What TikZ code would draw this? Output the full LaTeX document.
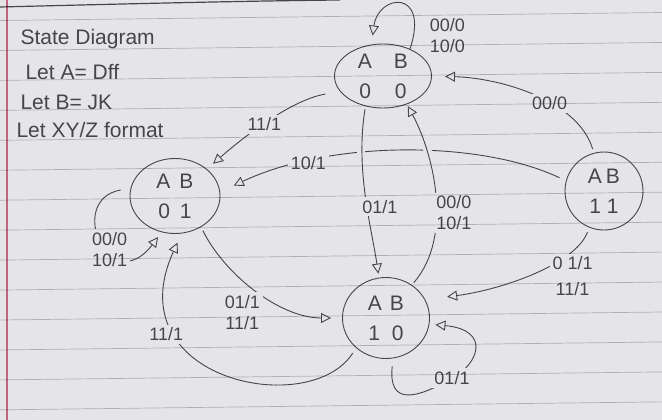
\documentclass[tikz,border=0pt]{standalone}
\usepackage{fontspec}
\setmainfont{Liberation Sans}
\usetikzlibrary{arrows.meta,positioning,shapes.geometric}
\definecolor{paper}{RGB}{229,229,231}
\definecolor{pencil}{RGB}{70,70,72}
\definecolor{ruling}{RGB}{192,196,204}
\definecolor{margin}{RGB}{214,112,142}

\begin{document}
\begin{tikzpicture}[x=1pt,y=-1pt,
  every node/.style={text=pencil},
  st/.style={draw=pencil,line width=0.9pt,ellipse,inner sep=0pt,align=center,
    font=\fontsize{21}{30}\selectfont},
  lbl/.style={fill=paper,inner sep=3pt,align=center,font=\fontsize{18}{21}\selectfont},
  note/.style={anchor=base west,font=\fontsize{21}{25}\selectfont},
  arr/.style={draw=pencil,line width=0.9pt,-{Triangle[open,length=10pt,width=10pt]}},
  hop/.style={preaction={draw=paper,line width=8pt,-,shorten <=14pt,shorten >=14pt}}
]
\useasboundingbox (0,0) rectangle (662,420);
\fill[paper] (0,0) rectangle (662,420);
\draw[pencil,line width=1.2pt] (0,7) .. controls (120,4) and (240,1) .. (340,0);

\node[note] (title) at (17,45) {State Diagram};
\node[note] (leta) at (22,80) {Let A= Dff};
\node[note] (letb) at (17,110) {Let B= JK};
\node[note] (letxy) at (13,138) {Let XY/Z format};

\node[st,minimum width=97pt,minimum height=64pt] (s00) at (383,76) {A\hspace{22pt}B\\0\hspace{24pt}0};
\node[st,minimum width=90pt,minimum height=75pt] (s01) at (175,196) {A\hspace{9pt}B\\0\hspace{10pt}1};
\node[st,minimum width=78pt,minimum height=78pt] (s11) at (604,191) {A\hspace{4pt}B\\1\hspace{6pt}1};
\node[st,minimum width=87pt,minimum height=81pt] (s10) at (386,318) {A\hspace{8pt}B\\1\hspace{12pt}0};

\draw[arr,shorten >=9pt] (s00.45) .. controls (430,-12) and (378,-6) .. (s00.110)
  node[lbl,pos=.12,anchor=west,xshift=12pt,yshift=-6pt] (l1) {00/0\\10/0};
\draw[arr,shorten <=4pt,shorten >=13pt] (s11.105) .. controls (578,100) and (500,78) .. (s00.east)
  node[lbl,pos=.4] (l2) {00/0};
\draw[arr,shorten <=15pt,shorten >=8pt] (s00.200) .. controls (290,100) and (240,140) .. (s01.40)
  node[lbl,pos=.52] (l3) {11/1};
\draw[arr,shorten <=7pt,shorten >=15pt] (s11.165) .. controls (480,140) and (330,140) .. (s01.5)
  node[lbl,pos=.75] (l4) {10/1};
\draw[arr,hop,shorten <=3pt,shorten >=4pt] (s00.240) .. controls (355,170) and (372,230) .. (s10.100)
  node[lbl,pos=.55,xshift=13pt] (l5) {01/1};
\draw[arr,hop,shorten <=3pt,shorten >=2pt] (s10.52) .. controls (455,235) and (432,150) .. (s00.310)
  node[lbl,pos=.4,xshift=18pt] (l6) {00/0\\10/1};
\draw[arr,shorten <=5pt,shorten >=22pt] (s11.248) .. controls (575,265) and (500,290) .. (s10.25)
  node[lbl,pos=.35,xshift=18pt,yshift=-14pt] (l7) {0 1/1\\[5pt]11/1};
\draw[arr,shorten <=8pt,shorten >=6pt] (s10.280) .. controls (388,405) and (415,400) .. (452,378)
  node[lbl] (l8) {01/1} .. controls (478,365) and (492,330) .. (s10.352);
\draw[arr,shorten <=10pt,shorten >=6pt] (s01.170) .. controls (65,200) and (110,300) .. (s01.250)
  node[lbl,pos=.6] (l9) {00/0\\10/1};
\draw[arr,shorten <=4pt,shorten >=11pt] (s01.310) .. controls (225,275) and (280,318) .. (s10.180)
  node[lbl,pos=.5,xshift=-15pt,yshift=-22pt] (l10) {01/1\\11/1};
\draw[arr,shorten <=6pt,shorten >=10pt] (s10.225) .. controls (310,420) and (115,380) .. (s01.280)
  node[lbl,pos=.75,xshift=-8pt,yshift=-11pt] (l11) {11/1};

\begin{scope}[blend mode=multiply]
\foreach \k in {0,...,13}
  \draw[ruling,line width=0.7pt] (0,{20.5+29.95*\k}) -- (662,{12.5+29.95*\k});
\draw[margin,line width=2.2pt] (7,0) -- (7,420);
\end{scope}
\end{tikzpicture}
\end{document}
